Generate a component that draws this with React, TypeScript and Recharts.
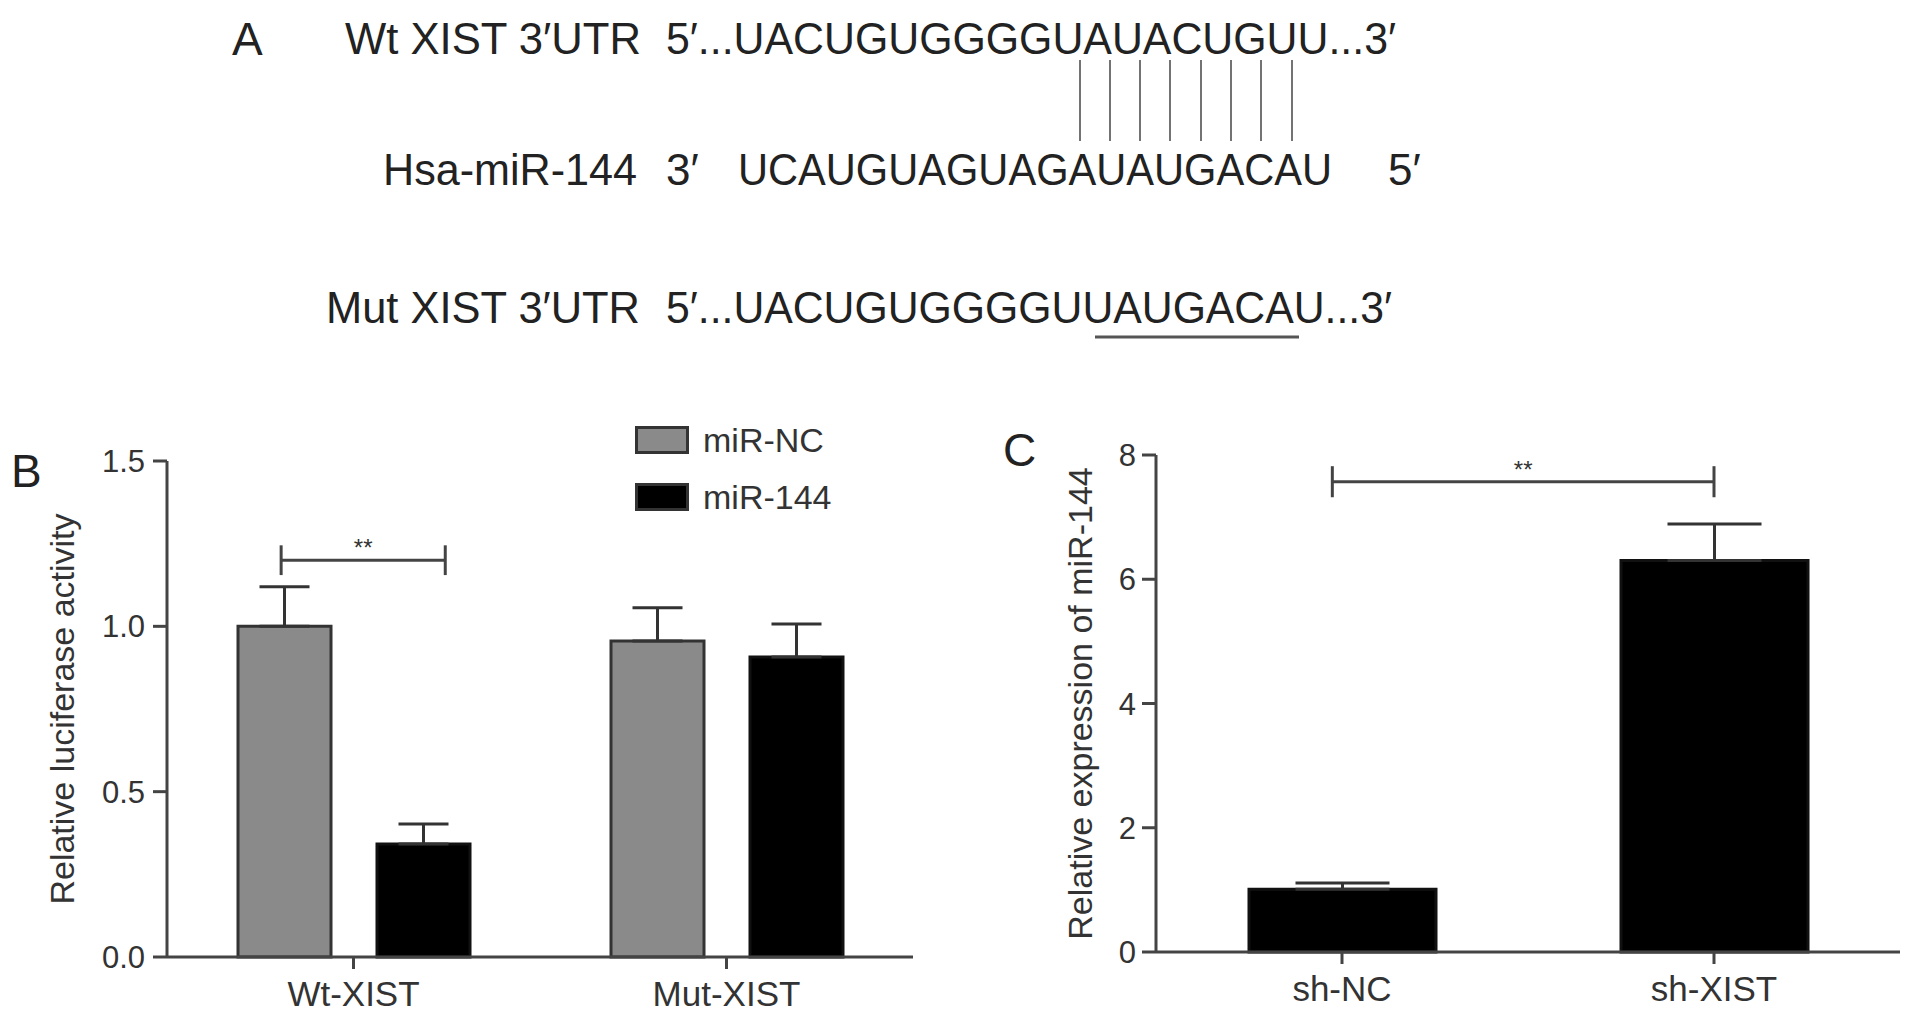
import React from "react";
import {
  BarChart,
  Bar,
  XAxis,
  YAxis,
  ErrorBar,
  Legend,
  ReferenceLine,
} from "recharts";

// panel A: sequence alignment text
const wtLabel = "Wt XIST 3′UTR";
const wtSeq = "5′...UACUGUGGGGUAUACUGUU...3′";
const mirLabel = "Hsa-miR-144";
const mirSeq = "UCAUGUAGUAGAUAUGACAU";
const mutLabel = "Mut XIST 3′UTR";
const mutSeq = "5′...UACUGUGGGGUUAUGACAU...3′";

// panel B: luciferase activity
const seriesB = ["miR-NC", "miR-144"];
const groupsB = ["Wt-XIST", "Mut-XIST"];
const ncValues = [1.0, 0.956];
const ncErrors = [0.12, 0.1];
const mirValues = [0.342, 0.907];
const mirErrors = [0.06, 0.1];
const ticksB = [0, 0.5, 1.0, 1.5];

// panel C: miR-144 expression
const groupsC = ["sh-NC", "sh-XIST"];
const valuesC = [1.01, 6.3];
const errorsC = [0.1, 0.59];
const ticksC = [0, 2, 4, 6, 8];

const dataB = groupsB.map((name, i) => ({
  name,
  nc: ncValues[i],
  ncErr: [0, ncErrors[i]],
  mir: mirValues[i],
  mirErr: [0, mirErrors[i]],
}));

const dataC = groupsC.map((name, i) => ({
  name,
  value: valuesC[i],
  err: [0, errorsC[i]],
}));

const FONT = "'Liberation Sans', Arial, Helvetica, sans-serif";
const INK = "#333";
const AXIS = "#444";

const axisStyle = { stroke: AXIS, strokeWidth: 3 };

function LegendB(props: any) {
  const items = [...(props.payload || [])].sort(
    (a: any, b: any) => seriesB.indexOf(a.value) - seriesB.indexOf(b.value)
  );
  return (
    <div style={{ display: "flex", flexDirection: "column", gap: 27 }}>
      {items.map((p: any) => (
        <div key={p.value} style={{ display: "flex", alignItems: "center", height: 30 }}>
          <div
            style={{
              width: 48,
              height: 22,
              background: p.color,
              border: "3px solid #333",
              marginRight: 14,
            }}
          />
          <span style={{ fontSize: 34, color: INK, fontFamily: FONT }}>{p.value}</span>
        </div>
      ))}
    </div>
  );
}

function Bracket({ from, to, y, half }: { from: number; to: number; y: number; half: number }) {
  return null;
}

function PanelA() {
  const pairX = [1080, 1110, 1140, 1170, 1201, 1231, 1261, 1292];
  return (
    <svg
      width={1913}
      height={360}
      style={{ position: "absolute", left: 0, top: 0 }}
      fontFamily={FONT}
      fill="#222"
    >
      <text x={232} y={55} fontSize={46}>A</text>
      <text x={345} y={54} fontSize={44} textLength={296} lengthAdjust="spacingAndGlyphs">
        {wtLabel}
      </text>
      <text x={666} y={54} fontSize={44} textLength={730} lengthAdjust="spacingAndGlyphs">
        {wtSeq}
      </text>
      {pairX.map((x) => (
        <line key={x} x1={x} x2={x} y1={60} y2={141} stroke="#444" strokeWidth={1.5} />
      ))}
      <text x={383} y={185} fontSize={44} textLength={254} lengthAdjust="spacingAndGlyphs">
        {mirLabel}
      </text>
      <text x={666} y={185} fontSize={44}>3′</text>
      <text x={738} y={185} fontSize={44} textLength={594} lengthAdjust="spacingAndGlyphs">
        {mirSeq}
      </text>
      <text x={1388} y={185} fontSize={44}>5′</text>
      <text x={326} y={323} fontSize={44} textLength={314} lengthAdjust="spacingAndGlyphs">
        {mutLabel}
      </text>
      <text x={666} y={323} fontSize={44} textLength={726} lengthAdjust="spacingAndGlyphs">
        {mutSeq}
      </text>
      <line x1={1095} x2={1299} y1={337} y2={337} stroke="#555" strokeWidth={3} />
    </svg>
  );
}

// significance bracket, x in fractions of the plot width (hidden axis "pos")
function bracketLines(from: number, to: number, y: number, half: number) {
  return [
    <ReferenceLine
      key="h"
      xAxisId="pos"
      segment={[{ x: from, y }, { x: to, y }]}
      stroke="#444"
      strokeWidth={3}
      ifOverflow="visible"
      label={{ value: "**", position: "top", offset: 4, fill: INK, fontSize: 24 }}
    />,
    <ReferenceLine
      key="l"
      xAxisId="pos"
      segment={[{ x: from, y: y - half }, { x: from, y: y + half }]}
      stroke="#444"
      strokeWidth={3}
      ifOverflow="visible"
    />,
    <ReferenceLine
      key="r"
      xAxisId="pos"
      segment={[{ x: to, y: y - half }, { x: to, y: y + half }]}
      stroke="#444"
      strokeWidth={3}
      ifOverflow="visible"
    />,
  ];
}

export default function App() {
  return (
    <div
      style={{
        position: "absolute",
        left: 0,
        top: 0,
        width: 1913,
        height: 1022,
        background: "#fff",
        fontFamily: FONT,
        overflow: "hidden",
      }}
    >
      <PanelA />

      <div style={{ position: "absolute", left: 11, top: 444, fontSize: 46, color: "#222" }}>B</div>
      <div style={{ position: "absolute", left: 1003, top: 423, fontSize: 46, color: "#222" }}>C</div>

      {/* panel B */}
      <div style={{ position: "absolute", left: 0, top: 400 }}>
        <BarChart
          width={940}
          height={617}
          data={dataB}
          margin={{ top: 61, right: 27, bottom: 0, left: 0 }}
          barSize={93}
          barGap={46}
        >
          <XAxis
            dataKey="name"
            interval={0}
            height={60}
            tickSize={12}
            tickMargin={12}
            axisLine={axisStyle}
            tickLine={axisStyle}
            tick={{ fill: INK, fontSize: 35 }}
          />
          <XAxis xAxisId="pos" type="number" domain={[0, 1]} allowDataOverflow hide />
          <YAxis
            width={167}
            domain={[0, 1.5]}
            ticks={ticksB}
            tickFormatter={(v: number) => v.toFixed(1)}
            tickSize={14}
            tickMargin={8}
            axisLine={axisStyle}
            tickLine={axisStyle}
            tick={{ fill: INK, fontSize: 31 }}
            label={{
              value: "Relative luciferase activity",
              angle: -90,
              position: "insideLeft",
              offset: 62,
              style: { textAnchor: "middle", fill: INK, fontSize: 34 },
            }}
          />
          <Legend
            layout="vertical"
            align="center"
            verticalAlign="middle"
            content={<LegendB />}
            wrapperStyle={{ left: 635, top: 25, width: 260 }}
          />
          <Bar dataKey="nc" name={seriesB[0]} fill="#8a8a8a" stroke="#333" strokeWidth={3} isAnimationActive={false}>
            <ErrorBar dataKey="ncErr" width={25} stroke="#333" strokeWidth={3} direction="y" />
          </Bar>
          <Bar dataKey="mir" name={seriesB[1]} fill="#000" stroke="#111" strokeWidth={3} isAnimationActive={false}>
            <ErrorBar dataKey="mirErr" width={25} stroke="#333" strokeWidth={3} direction="y" />
          </Bar>
          {bracketLines(0.153, 0.373, 1.2, 0.045)}
        </BarChart>
      </div>

      {/* panel C */}
      <div style={{ position: "absolute", left: 980, top: 400 }}>
        <BarChart
          width={925}
          height={612}
          data={dataC}
          margin={{ top: 55, right: 5, bottom: 0, left: 0 }}
          barSize={187}
        >
          <XAxis
            dataKey="name"
            interval={0}
            height={60}
            tickSize={12}
            tickMargin={12}
            axisLine={axisStyle}
            tickLine={axisStyle}
            tick={{ fill: INK, fontSize: 35 }}
          />
          <XAxis xAxisId="pos" type="number" domain={[0, 1]} allowDataOverflow hide />
          <YAxis
            width={176}
            domain={[0, 8]}
            ticks={ticksC}
            tickSize={14}
            tickMargin={6}
            axisLine={axisStyle}
            tickLine={axisStyle}
            tick={{ fill: INK, fontSize: 31 }}
            label={{
              value: "Relative expression of miR-144",
              angle: -90,
              position: "insideLeft",
              offset: 100,
              style: { textAnchor: "middle", fill: INK, fontSize: 34 },
            }}
          />
          <Bar dataKey="value" fill="#000" stroke="#111" strokeWidth={3} isAnimationActive={false}>
            <ErrorBar dataKey="err" width={47} stroke="#333" strokeWidth={3} direction="y" />
          </Bar>
          {bracketLines(0.237, 0.75, 7.57, 0.25)}
        </BarChart>
      </div>
    </div>
  );
}
